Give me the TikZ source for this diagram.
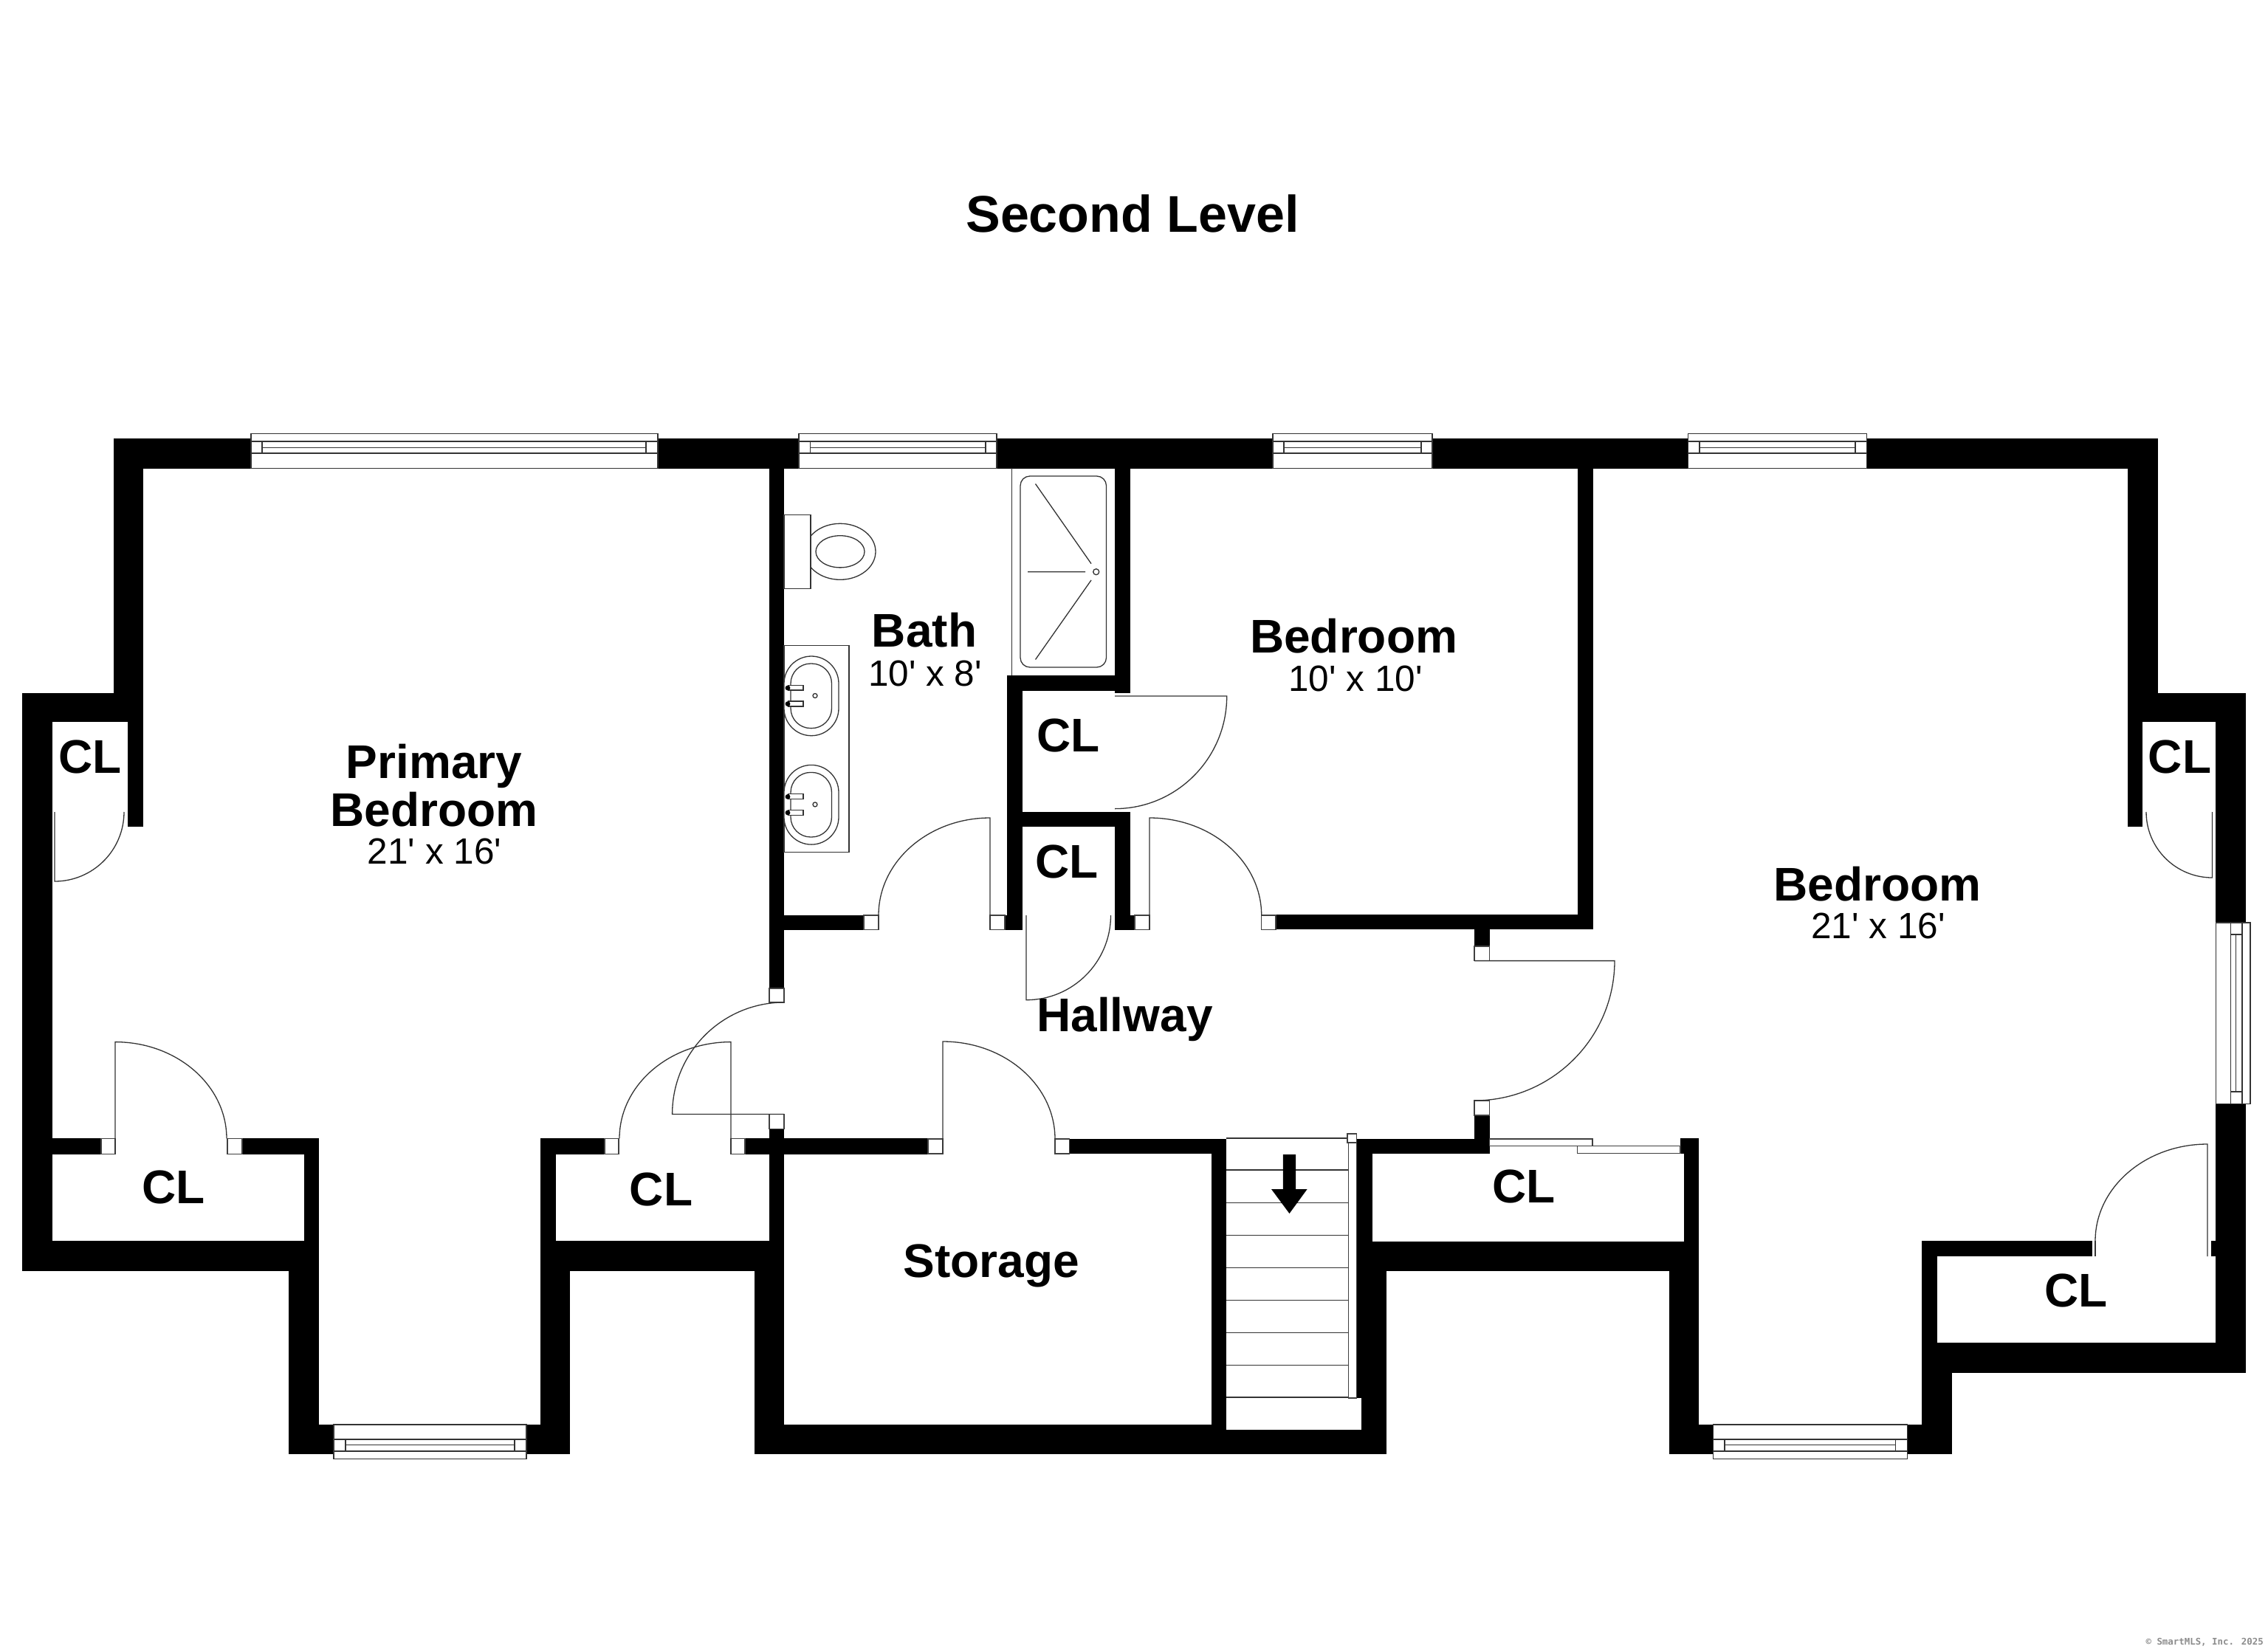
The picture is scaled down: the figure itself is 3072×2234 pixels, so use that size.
\documentclass[tikz,border=0pt]{standalone}
\usepackage{fontspec}
\usetikzlibrary{calc}
\newfontfamily\labfont{Liberation Sans}
\newfontfamily\markfont{DejaVu Sans Mono}
\tikzset{
  wall/.style={fill=black},
  thinline/.style={draw=black!80,line width=1.3pt},
  fixture/.style={draw=black!80,line width=1.3pt,fill=white},
  jamb/.style={draw=black!75,line width=1.2pt,fill=white},
  winbox/.style={draw=black!80,line width=1.3pt,fill=white},
  roomname/.style={anchor=base,inner sep=0pt,font=\labfont\bfseries\fontsize{64}{72}\selectfont},
  roomsize/.style={anchor=base,inner sep=0pt,font=\labfont\fontsize{49.5}{56}\selectfont},
  titletext/.style={anchor=base,inner sep=0pt,font=\labfont\bfseries\fontsize{70}{80}\selectfont},
  marktext/.style={anchor=base east,inner sep=0pt,text=black!45,font=\markfont\bfseries\fontsize{12.4}{14}\selectfont}
}
\newcommand\wl[4]{\fill[wall] (#1,#2) rectangle (#3,#4);}
\newcommand\jb[4]{\draw[jamb] (#1,#2) rectangle (#3,#4);}
% door: leaf from hinge A to open end B, swing from B to C, with corner D
\newcommand\door[4]{\draw[thinline] (#1) -- (#2) .. controls ($(#2)!.552!(#4)$) and ($(#3)!.552!(#4)$) .. (#3);}
% horizontal window
\newcommand\winT[4]{%
  \draw[winbox] (#1,587.5) rectangle (#2,634.5);
  \draw[thinline] (#1,598) -- (#2,598) (#1,614) -- (#2,614)
    (#3,598) -- (#3,614) (#4,598) -- (#4,614) (#3,606.5) -- (#4,606.5);}
\newcommand\winB[4]{%
  \draw[winbox] (#1,1930) rectangle (#2,1976.5);
  \draw[thinline] (#1,1950) -- (#2,1950) (#1,1966) -- (#2,1966)
    (#3,1950) -- (#3,1966) (#4,1950) -- (#4,1966) (#3,1957.5) -- (#4,1957.5);}
\newcommand\sink[1]{%
  \begin{scope}[shift={(0,#1)}]
    \draw[fixture] (1062,889) [rounded corners=37pt] rectangle (1136,996.7);
    \draw[fixture] (1071,899) [rounded corners=27pt] rectangle (1126.5,986.6);
    \draw[fixture] (1068,928.4) rectangle (1088,935);
    \draw[fixture] (1068,950) rectangle (1088,957);
    \fill (1067,932) circle[radius=3.4pt] (1067,953.6) circle[radius=3.4pt];
    \draw[thinline] (1104,942.5) circle[radius=3pt];
  \end{scope}}
\begin{document}
\begin{tikzpicture}[x=1pt,y=-1pt]
\useasboundingbox[fill=white] (0,0) rectangle (3072,2234);

% ---------- walls
\wl{154}{594}{2922.5}{634.5}
\wl{154}{594}{194}{978}
\wl{173}{938.6}{194}{1120}
\wl{30}{938.6}{194}{978}
\wl{30}{938.6}{71}{1721.5}
\wl{30}{1681}{432}{1721.5}
\wl{71}{1542.4}{137}{1563.5}
\wl{328}{1542.4}{432}{1563.5}
\wl{412}{1542.4}{432}{1721.5}
\wl{391}{1721}{432}{1970}
\wl{391}{1930}{452}{1970}
\wl{713}{1930}{772}{1970}
\wl{732}{1542.4}{753}{1721.5}
\wl{732}{1721}{772}{1970}
\wl{732}{1542.4}{819}{1563.5}
\wl{1009}{1542.4}{1257}{1563.5}
\wl{732}{1681}{1062}{1721.5}
\wl{1042}{634}{1062}{1339}
\wl{1042}{1529.6}{1062}{1970}
\wl{1021.5}{1721.5}{1062}{1970}
\wl{1021.5}{1930}{1661}{1970}
\wl{1661}{1937}{1878}{1970}
\wl{1448.6}{1543}{1661}{1563}
\wl{1640.6}{1543}{1661}{1937}
\wl{1837.7}{1543}{1859}{1722}
\wl{1837.7}{1682}{1878}{1894}
\wl{1844}{1894}{1878}{1970}
\wl{1837.7}{1543}{2017.6}{1563}
\wl{1997}{1511}{2017.6}{1563}
\wl{1859}{1681.7}{2301}{1722}
\wl{2276}{1542.4}{2301}{1563}
\wl{2281}{1542.4}{2301}{1722}
\wl{2260.5}{1722}{2301}{1970}
\wl{2260.5}{1930}{2320.7}{1970}
\wl{2583.8}{1930}{2644}{1970}
\wl{2603}{1860}{2644}{1970}
\wl{2603}{1681}{2624}{1860}
\wl{2603}{1681}{2834}{1702}
\wl{2603}{1819.4}{3041.5}{1860}
\wl{2995}{1681}{3001}{1702}
\wl{3001}{1495}{3041.5}{1860}
\wl{3001}{938.6}{3041.5}{1250}
\wl{2882}{938.6}{3041.5}{978}
\wl{2882}{594}{2922.5}{978}
\wl{2882}{938}{2902.4}{1120}
\wl{2137}{634}{2158}{1259.3}
\wl{1728}{1239.4}{2158}{1259.3}
\wl{1997}{1259}{2017.6}{1282}
\wl{1062}{1240}{1170}{1259.5}
\wl{1361}{1240}{1385}{1259.5}
\wl{1364}{915}{1385}{1259.5}
\wl{1364}{915}{1530.6}{935.7}
\wl{1364}{1099.5}{1530.6}{1120}
\wl{1510}{634}{1530.6}{938.6}
\wl{1510}{1099.5}{1530.6}{1259.5}
\wl{1510}{1240}{1537}{1259.5}

% ---------- door jambs
\jb{137}{1542.4}{156}{1563.5}
\jb{308}{1542.4}{328}{1563.5}
\jb{819}{1542.4}{838}{1563.5}
\jb{990}{1542.4}{1009}{1563.5}
\jb{1042}{1339}{1062}{1358}
\jb{1042}{1509.4}{1062}{1529.6}
\jb{1170}{1240}{1190}{1259.5}
\jb{1341}{1240}{1361}{1259.5}
\jb{1537}{1240}{1557}{1259.5}
\jb{1708.7}{1240}{1728}{1259.5}
\jb{1997}{1282}{2017.6}{1301.6}
\jb{1997}{1491}{2017.6}{1511}
\jb{1257}{1543}{1277}{1563}
\jb{1429}{1543}{1448.6}{1563}

% ---------- doors
\door{74,1100}{74,1194}{168,1100}{168,1194}
\door{156,1563}{156,1411.6}{307,1542.4}{307,1411.6}
\door{990,1563}{990,1411.6}{839,1542.4}{839,1411.6}
\door{1062,1509.4}{910.6,1509.4}{1062,1358}{910.6,1358}
\door{1277,1563}{1277,1411}{1429,1543}{1429,1411}
\door{1997,1301.6}{2187,1301.6}{1997,1491}{2187,1491}
\door{1341,1259}{1341,1108}{1190,1240}{1190,1108}
\door{1557,1259}{1557,1108}{1708.7,1240}{1708.7,1108}
\door{1510,943}{1661.7,943}{1510,1095.6}{1661.7,1095.6}
\door{1390,1240}{1390,1354.7}{1504.5,1240}{1504.5,1354.7}
\door{2996.4,1100}{2996.4,1189}{2907,1100}{2907,1189}
\door{2990,1702}{2990,1550}{2838,1681}{2838,1550}
\draw[thinline] (2838,1681) -- (2838,1702);

% ---------- windows
\winT{340}{891}{355}{875}
\winT{1082}{1350}{1097.4}{1335}
\winT{1724}{1940}{1739}{1925}
\winT{2286.8}{2528.7}{2302}{2513}
\winB{452}{713}{468}{697}
\winB{2320.7}{2583.8}{2336}{2567.6}
\draw[winbox] (3001.4,1250) rectangle (3048,1495.4);
\draw[thinline] (3021.5,1250) -- (3021.5,1495.4) (3037,1250) -- (3037,1495.4)
  (3021.5,1266) -- (3037,1266) (3021.5,1479) -- (3037,1479) (3028.7,1266) -- (3028.7,1479);

% ---------- shower
\draw[thinline] (1370.4,634) -- (1370.4,915);
\draw[thinline,rounded corners=13pt] (1382,645) rectangle (1498.5,904);
\draw[thinline] (1402.5,655.5) -- (1478,763.6) (1392,774.7) -- (1470,774.7) (1402.5,893.5) -- (1478,786);
\draw[thinline] (1484.7,774.7) circle[radius=4pt];

% ---------- toilet
\draw[fixture] (1138,747.3) ellipse[x radius=48pt,y radius=38pt];
\draw[fixture] (1138,747.3) ellipse[x radius=33pt,y radius=21.6pt];
\draw[fixture] (1062,697.7) rectangle (1098,797.5);

% ---------- vanity
\draw[fixture] (1062,874.6) rectangle (1150,1154.3);
\sink{0}
\sink{147.4}

% ---------- stairs
\draw[thinline] (1661,1542) -- (1826.5,1542);
\foreach \ty in {1585,1629.7,1673.6,1717.4,1761.3,1805.7,1849.6,1893}
  \draw[thinline] (1661,\ty) -- (1826.5,\ty);
\draw[jamb] (1826.5,1542) rectangle (1837.7,1894);
\draw[jamb] (1825,1536) rectangle (1837.7,1548);
\fill (1737.8,1564) -- (1755,1564) -- (1755,1611) -- (1770.6,1611) -- (1746.5,1644) -- (1722,1611) -- (1737.8,1611) -- cycle;

% ---------- sliding closet doors
\draw[jamb] (2017.6,1543) rectangle (2157,1552.6);
\draw[jamb] (2136.5,1552.6) rectangle (2276,1562.3);

% ---------- text
\node[titletext] (title) at (1534,314) {Second Level};
\node[roomname] (primaryA) at (588,1054) {Primary};
\node[roomname] (primaryB) at (588,1119) {Bedroom};
\node[roomsize] (primaryS) at (588.5,1170.5) {21' x 16'};
\node[roomname] (bath) at (1252,876.5) {Bath};
\node[roomsize] (bathS) at (1253,929.5) {10' x 8'};
\node[roomname] (bedA) at (1833.6,884) {Bedroom};
\node[roomsize] (bedAS) at (1836,936) {10' x 10'};
\node[roomname] (bedB) at (2543,1220) {Bedroom};
\node[roomsize] (bedBS) at (2544,1271) {21' x 16'};
\node[roomname] (hall) at (1523.5,1397.5) {Hallway};
\node[roomname] (storage) at (1343,1730) {Storage};
\node[roomname] (clA) at (122,1047) {CL};
\node[roomname] (clB) at (235,1630.5) {CL};
\node[roomname] (clC) at (895.5,1633) {CL};
\node[roomname] (clD) at (1447.4,1018.5) {CL};
\node[roomname] (clE) at (1445.4,1189) {CL};
\node[roomname] (clF) at (2064,1629) {CL};
\node[roomname] (clG) at (2952.5,1047) {CL};
\node[roomname] (clH) at (2811.8,1770.5) {CL};
\node[marktext] (mark) at (3066,2228) {© SmartMLS, Inc.  2025};
\end{tikzpicture}
\end{document}
